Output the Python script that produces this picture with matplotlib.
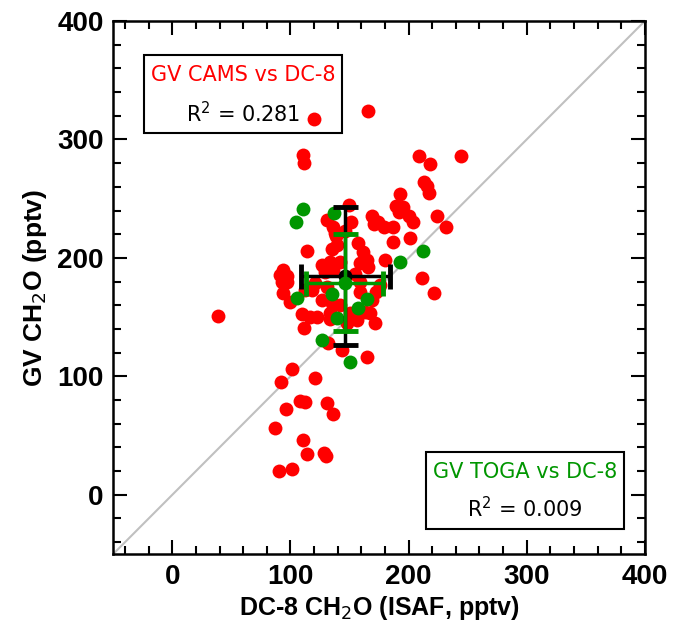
import numpy as np
import matplotlib
matplotlib.use('Agg')
import matplotlib.pyplot as plt
from matplotlib.ticker import MultipleLocator
from matplotlib.patches import Rectangle

# GV CAMS vs DC-8 CH2O (pptv)
cams_x = [38.6, 101.3, 91.9, 120.7, 96.2, 108.0, 112.3, 130.9, 136.0, 86.9,
          110.6, 114.0, 128.4, 130.0, 90.3, 101.3, 119.9, 165.6, 110.6, 111.4,
          208.8, 218.1, 244.4, 213.0, 215.6, 217.3, 192.7, 189.3, 195.2, 200.3,
          203.7, 224.0, 231.7, 201.2, 186.8, 169.0, 179.2, 186.8, 174.1, 149.5,
          151.2, 130.9, 137.7, 114.0, 157.1, 161.4, 164.8, 180.0, 135.1, 133.4,
          93.6, 97.0, 211.3, 221.5, 172.4, 164.8, 111.4, 109.7, 116.5, 122.4,
          133.4, 131.7, 143.6, 93.6, 99.6, 171.5, 163.1, 126.7, 135.1, 139.4,
          138.5, 158.8, 136.0, 129.2, 165.6, 97.0, 120.7, 136.0, 191.9, 91.1,
          170.7, 92.8, 133.4, 150.4, 156.3, 167.3, 147.8, 130.9, 112.3, 158.8,
          175.8, 158.8, 169.0, 154.6, 141.9, 146.1, 126.7, 118.2, 141.9]
cams_y = [151.3, 106.5, 95.5, 98.9, 72.7, 79.4, 78.6, 77.8, 68.4, 56.6,
          46.5, 34.6, 35.5, 32.9, 20.3, 22.0, 317.0, 323.7, 286.5, 279.8,
          285.7, 278.9, 285.7, 263.7, 260.3, 254.4, 253.6, 243.4, 242.6, 235.0,
          230.7, 235.0, 226.5, 216.4, 213.8, 235.0, 226.5, 226.5, 229.9, 244.3,
          229.9, 232.4, 221.4, 206.2, 213.0, 205.4, 198.6, 198.6, 207.1, 196.9,
          190.2, 185.1, 183.4, 170.7, 171.6, 116.6, 141.1, 153.0, 150.4, 150.4,
          148.7, 128.5, 122.5, 170.7, 163.1, 145.4, 154.7, 164.8, 162.3, 211.3,
          218.1, 196.1, 190.2, 188.5, 191.9, 180.0, 179.2, 226.5, 238.4, 185.9,
          228.2, 180.0, 153.8, 153.8, 147.9, 153.8, 145.4, 175.8, 173.3, 180.0,
          177.5, 170.8, 164.8, 186.0, 196.9, 222.3, 194.4, 173.3, 160.6]

# GV TOGA vs DC-8
toga_x = [104.6, 110.6, 136.8, 212.2, 192.7, 105.5, 135.1, 164.8, 157.1,
          139.4, 126.7, 150.4]
toga_y = [230.7, 240.9, 237.5, 206.2, 196.9, 166.5, 169.9, 165.7, 158.0,
          149.6, 131.0, 112.4]

# mean and 1-sigma of each set, as drawn on the figure
cams_mean = [146.5, 184.7]
cams_sd = [37.7, 57.9]
toga_mean = [146.0, 179.2]
toga_sd = [32.7, 40.6]

r2_cams = 0.281
r2_toga = 0.009

red = '#ff0000'
green = '#009600'
axfont = 'Liberation Sans'

fig = plt.figure(figsize=(6.74, 6.33), dpi=100)
ax = fig.add_axes([0.168, 0.1248, 0.7887, 0.842])

lims = [-50, 400]
ax.plot(lims, lims, color='#c0c0c0', lw=1.5, zorder=1)

ax.plot(cams_x, cams_y, 'o', color=red, ms=10, mec='none', zorder=2)
ax.plot(toga_x, toga_y, 'o', color=green, ms=10, mec='none', zorder=3)

ax.errorbar(cams_mean[0], cams_mean[1], xerr=cams_sd[0], yerr=cams_sd[1],
            fmt='o', color='black', ms=10, mec='none', lw=2.5, capsize=9,
            capthick=3.5, zorder=4)
ax.errorbar(toga_mean[0], toga_mean[1], xerr=toga_sd[0], yerr=toga_sd[1],
            fmt='o', color=green, ms=10, mec='none', lw=2.5, capsize=9,
            capthick=3.5, zorder=5)

ax.set_xlim(lims)
ax.set_ylim(lims)

# annotation boxes
ax.add_patch(Rectangle((0.058, 0.790), 0.372, 0.146, transform=ax.transAxes,
                       fill=False, lw=1.5, ec='black', zorder=6))
ax.text(0.244, 0.898, 'GV CAMS vs DC-8', color=red, fontsize=15,
        ha='center', va='center', transform=ax.transAxes)
ax.text(0.244, 0.827, r'R$^2$ = %.3f' % r2_cams, color='black', fontsize=15,
        ha='center', va='center', transform=ax.transAxes)

ax.add_patch(Rectangle((0.588, 0.047), 0.373, 0.144, transform=ax.transAxes,
                       fill=False, lw=1.5, ec='black', zorder=6))
ax.text(0.775, 0.154, 'GV TOGA vs DC-8', color=green, fontsize=15,
        ha='center', va='center', transform=ax.transAxes)
ax.text(0.775, 0.0857, r'R$^2$ = %.3f' % r2_toga, color='black', fontsize=15,
        ha='center', va='center', transform=ax.transAxes)

ax.xaxis.set_major_locator(MultipleLocator(100))
ax.xaxis.set_minor_locator(MultipleLocator(20))
ax.yaxis.set_major_locator(MultipleLocator(100))
ax.yaxis.set_minor_locator(MultipleLocator(20))
ax.tick_params(which='both', direction='in', top=True, right=True, width=1.5)
ax.tick_params(which='major', length=10, pad=7)
ax.tick_params(which='minor', length=5.5)
for sp in ax.spines.values():
    sp.set_linewidth(1.8)
for lab in ax.get_xticklabels() + ax.get_yticklabels():
    lab.set_family(axfont)
    lab.set_fontsize(20)
    lab.set_fontweight('bold')

ax.set_xlabel(r'DC-8 CH$_2$O (ISAF, pptv)', family=axfont, fontsize=18,
              fontweight='bold', labelpad=3)
ax.set_ylabel(r'GV CH$_2$O (pptv)', family=axfont, fontsize=19,
              fontweight='bold', labelpad=6)

fig.savefig('out.png', dpi=100)
